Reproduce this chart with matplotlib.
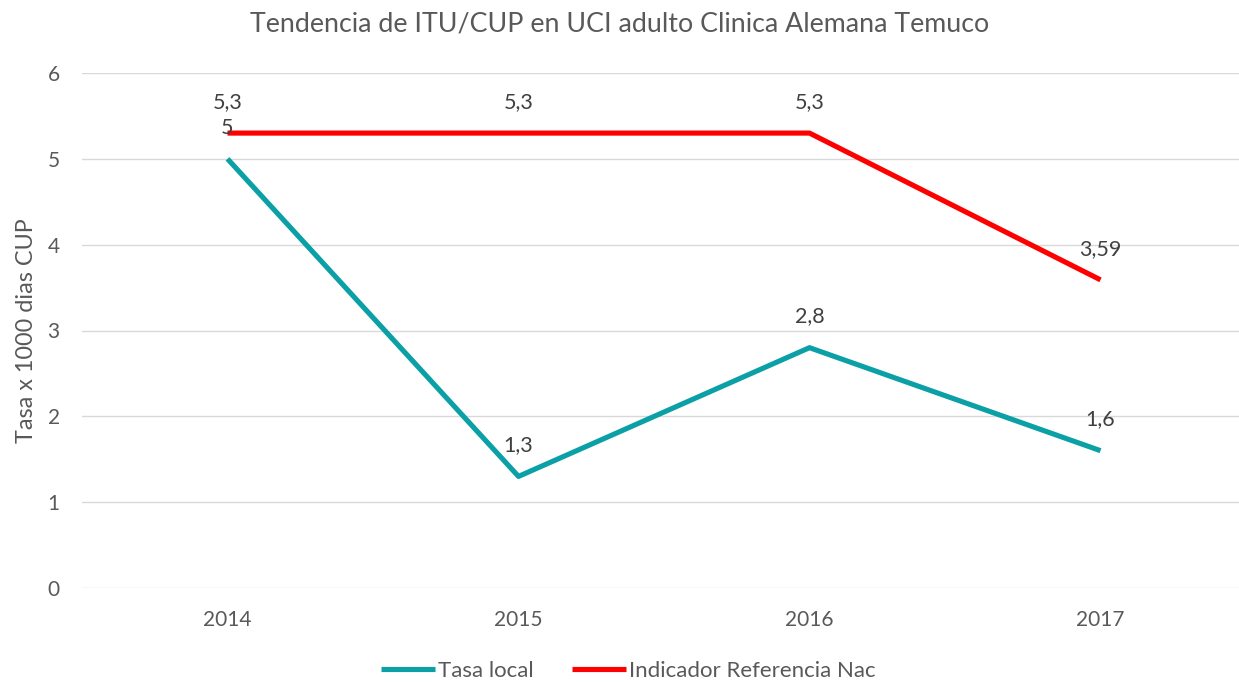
import matplotlib.pyplot as plt

years = ["2014", "2015", "2016", "2017"]
tasa_local = [5, 1.3, 2.8, 1.6]
referencia_nac = [5.3, 5.3, 5.3, 3.59]
etiquetas_local = ["5", "1,3", "2,8", "1,6"]
etiquetas_ref = ["5,3", "5,3", "5,3", "3,59"]

plt.rcParams['font.family'] = ['Lato', 'DejaVu Sans']
txt = '#595959'

fig = plt.figure(figsize=(12.39, 6.82), dpi=100)
W, H = 1239, 682
ax = fig.add_axes([82 / W, 1 - 588 / H, (1246 - 82) / W, (588 - 73) / H])

x = range(len(years))
ax.plot(x, tasa_local, color='#0AA0A6', lw=3.7, solid_capstyle='butt', label='Tasa local')
ax.plot(x, referencia_nac, color='#FF0000', lw=3.7, solid_capstyle='butt',
        label='Indicador Referencia Nac')

# etiquetas de datos sobre cada punto
for xi, v, s in zip(x, tasa_local, etiquetas_local):
    ax.annotate(s, (xi, v), xytext=(0, 22.5), textcoords='offset points',
                ha='center', va='center', fontsize=15.5, color='#404040')
for xi, v, s in zip(x, referencia_nac, etiquetas_ref):
    ax.annotate(s, (xi, v), xytext=(0, 22.5), textcoords='offset points',
                ha='center', va='center', fontsize=15.5, color='#404040')

ax.set_xlim(-0.5, 3.5)
ax.set_ylim(0, 6)
ax.set_xticks(list(x))
ax.set_xticklabels(years)
ax.set_yticks(range(7))
ax.grid(axis='y', color='#D9D9D9', lw=1)
ax.set_axisbelow(True)
for sp in ax.spines.values():
    sp.set_visible(False)
ax.tick_params(length=0, labelsize=15, colors=txt)
ax.tick_params(axis='x', pad=16)
ax.tick_params(axis='y', pad=16)
ax.set_ylabel('Tasa x 1000 dias CUP', fontsize=16.8, color=txt, labelpad=8)

fig.text(0.5, 1 - 24 / H, 'Tendencia de ITU/CUP en UCI adulto Clinica Alemana Temuco',
         ha='center', va='center', fontsize=19.3, color=txt)

leg = fig.legend(loc='center', bbox_to_anchor=(0.5 + 9 / W, 1 - 671 / H), ncol=2,
                 frameon=False, fontsize=16, handlelength=2.4, handletextpad=0.15,
                 columnspacing=1.75)
for t in leg.get_texts():
    t.set_color(txt)

fig.savefig('out.png', dpi=100)
